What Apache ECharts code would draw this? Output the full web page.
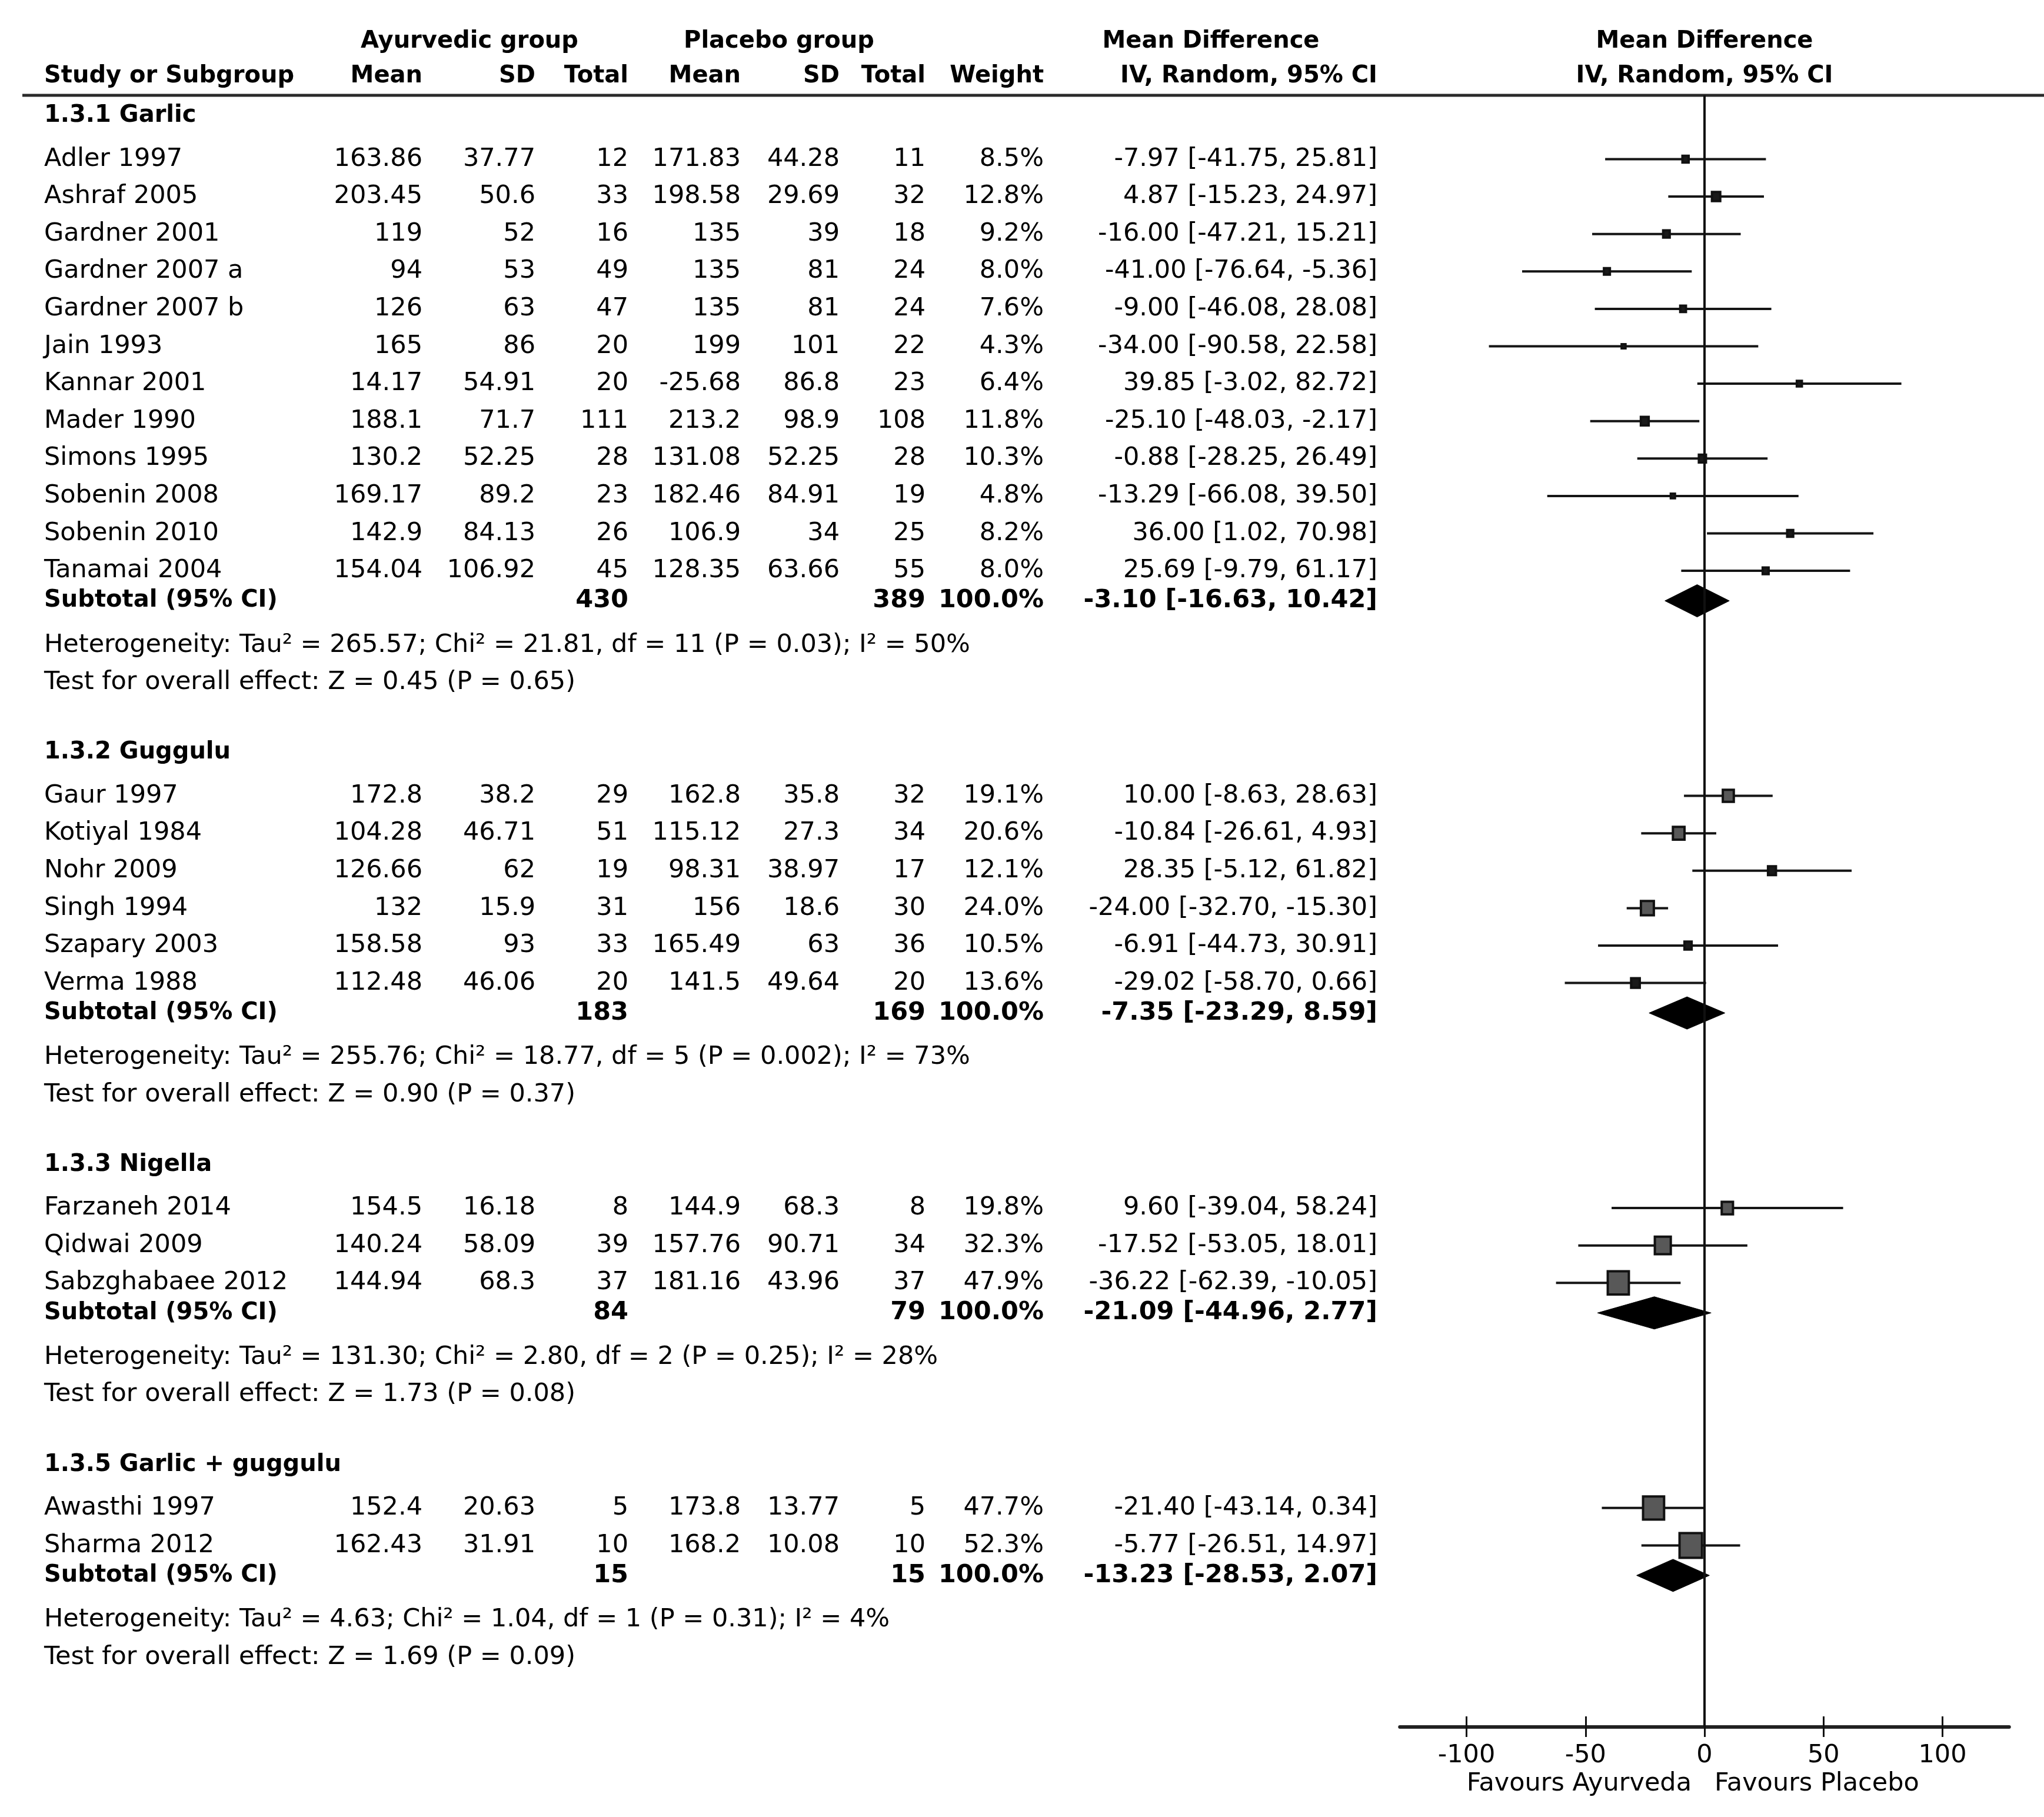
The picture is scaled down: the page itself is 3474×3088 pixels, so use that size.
<!DOCTYPE html>
<html>
<head>
<meta charset="utf-8">
<script src="https://cdn.jsdelivr.net/npm/echarts@6/dist/echarts.min.js"></script>
<style>
html,body{margin:0;padding:0;background:#fff;}
#chart{width:3474px;height:3088px;}
</style>
</head>
<body>
<div id="chart"></div>
<script>
// ---------------- DATA ----------------
const groupNames = ['1.3.1 Garlic', '1.3.2 Guggulu', '1.3.3 Nigella', '1.3.5 Garlic + guggulu'];
const studyGroup = [0,0,0,0,0,0,0,0,0,0,0,0, 1,1,1,1,1,1, 2,2,2, 3,3];
const studyNames = ['Adler 1997','Ashraf 2005','Gardner 2001','Gardner 2007 a','Gardner 2007 b','Jain 1993','Kannar 2001','Mader 1990','Simons 1995','Sobenin 2008','Sobenin 2010','Tanamai 2004',
  'Gaur 1997','Kotiyal 1984','Nohr 2009','Singh 1994','Szapary 2003','Verma 1988',
  'Farzaneh 2014','Qidwai 2009','Sabzghabaee 2012',
  'Awasthi 1997','Sharma 2012'];
const ayurMean = [163.86,203.45,119,94,126,165,14.17,188.1,130.2,169.17,142.9,154.04, 172.8,104.28,126.66,132,158.58,112.48, 154.5,140.24,144.94, 152.4,162.43];
const ayurSD   = [37.77,50.6,52,53,63,86,54.91,71.7,52.25,89.2,84.13,106.92, 38.2,46.71,62,15.9,93,46.06, 16.18,58.09,68.3, 20.63,31.91];
const ayurN    = [12,33,16,49,47,20,20,111,28,23,26,45, 29,51,19,31,33,20, 8,39,37, 5,10];
const placMean = [171.83,198.58,135,135,135,199,-25.68,213.2,131.08,182.46,106.9,128.35, 162.8,115.12,98.31,156,165.49,141.5, 144.9,157.76,181.16, 173.8,168.2];
const placSD   = [44.28,29.69,39,81,81,101,86.8,98.9,52.25,84.91,34,63.66, 35.8,27.3,38.97,18.6,63,49.64, 68.3,90.71,43.96, 13.77,10.08];
const placN    = [11,32,18,24,24,22,23,108,28,19,25,55, 32,34,17,30,36,20, 8,34,37, 5,10];
const weights  = [8.5,12.8,9.2,8.0,7.6,4.3,6.4,11.8,10.3,4.8,8.2,8.0, 19.1,20.6,12.1,24.0,10.5,13.6, 19.8,32.3,47.9, 47.7,52.3];
const meanDiff = [-7.97,4.87,-16.00,-41.00,-9.00,-34.00,39.85,-25.10,-0.88,-13.29,36.00,25.69, 10.00,-10.84,28.35,-24.00,-6.91,-29.02, 9.60,-17.52,-36.22, -21.40,-5.77];
const ciLow    = [-41.75,-15.23,-47.21,-76.64,-46.08,-90.58,-3.02,-48.03,-28.25,-66.08,1.02,-9.79, -8.63,-26.61,-5.12,-32.70,-44.73,-58.70, -39.04,-53.05,-62.39, -43.14,-26.51];
const ciHigh   = [25.81,24.97,15.21,-5.36,28.08,22.58,82.72,-2.17,26.49,39.50,70.98,61.17, 28.63,4.93,61.82,-15.30,30.91,0.66, 58.24,18.01,-10.05, 0.34,14.97];

const subAyurN  = [430,183,84,15];
const subPlacN  = [389,169,79,15];
const subMD     = [-3.10,-7.35,-21.09,-13.23];
const subLow    = [-16.63,-23.29,-44.96,-28.53];
const subHigh   = [10.42,8.59,2.77,2.07];
const hetTau2   = [265.57,255.76,131.30,4.63];
const hetChi2   = [21.81,18.77,2.80,1.04];
const hetDf     = [11,5,2,1];
const hetP      = ['0.03','0.002','0.25','0.31'];
const hetI2     = [50,73,28,4];
const testZ     = [0.45,0.90,1.73,1.69];
const testP     = ['0.65','0.37','0.08','0.09'];

const tickValues = [-100,-50,0,50,100];
const axisRange = [-128,128];

// ---------------- LAYOUT ----------------
const FONT = '"DejaVu Sans", "Liberation Sans", sans-serif';
const FS = 43;      // regular text
const FSL = 40;     // bold word labels
const fN = FS + 'px ' + FONT;
const fB = 'bold ' + FS + 'px ' + FONT;
const fBL = 'bold ' + FSL + 'px ' + FONT;
const COL = {name:75, aMean:718, aSD:910, aN:1068, pMean:1259, pSD:1427, pN:1573, w:1774, md:2341};
const GAP = {start:197, g2s:73.5, step:63.6, s2sub:51, sub2het:75.5, het2test:63.5, test2g:119};
const TOP_RULE = 162, AXIS_Y = 2935, H = 3088, W = 3474;

const rows = [];
(function(){
  let y = GAP.start;
  groupNames.forEach((g, gi) => {
    rows.push({kind:'group', gi, y});
    y += GAP.g2s;
    let first = true;
    studyNames.forEach((n, si) => {
      if (studyGroup[si] !== gi) return;
      if (!first) y += GAP.step;
      first = false;
      rows.push({kind:'study', si, y});
    });
    y += GAP.s2sub; rows.push({kind:'sub', gi, y});
    y += GAP.sub2het; rows.push({kind:'het', gi, y});
    y += GAP.het2test; rows.push({kind:'test', gi, y});
    y += GAP.test2g;
  });
})();

const f2 = v => v.toFixed(2);
const ciText = (m, l, h) => f2(m) + ' [' + f2(l) + ', ' + f2(h) + ']';

function txt(x, y, text, align, font) {
  return {type:'text', x, y, style:{text, font, fill:'#000', align, verticalAlign:'middle'}};
}

// ---------------- CHART ----------------
const chart = echarts.init(document.getElementById('chart'), null, {renderer:'canvas'});

const pxPerUnit = 4.045;
const zeroX = 2897;
const gridLeft = zeroX + axisRange[0] * pxPerUnit;
const gridRight = W - (zeroX + axisRange[1] * pxPerUnit);

const forestData = [];
rows.forEach(r => {
  if (r.kind === 'study') {
    const i = r.si;
    forestData.push([meanDiff[i], ciLow[i], ciHigh[i], r.y, weights[i], 0]);
  } else if (r.kind === 'sub') {
    const g = r.gi;
    forestData.push([subMD[g], subLow[g], subHigh[g], r.y, 100, 1]);
  }
});

const tableData = rows.map((r, i) => [0, r.y, i]);

const H1 = 71, H2 = 130;
const graphics = [
  txt(798, H1, 'Ayurvedic group', 'center', fBL),
  txt(1324, H1, 'Placebo group', 'center', fBL),
  txt(2058, H1, 'Mean Difference', 'center', fBL),
  txt(zeroX, H1, 'Mean Difference', 'center', fBL),
  txt(COL.name, H2, 'Study or Subgroup', 'left', fBL),
  txt(COL.aMean, H2, 'Mean', 'right', fBL),
  txt(COL.aSD, H2, 'SD', 'right', fBL),
  txt(COL.aN, H2, 'Total', 'right', fBL),
  txt(COL.pMean, H2, 'Mean', 'right', fBL),
  txt(COL.pSD, H2, 'SD', 'right', fBL),
  txt(COL.pN, H2, 'Total', 'right', fBL),
  txt(COL.w, H2, 'Weight', 'right', fBL),
  txt(COL.md, H2, 'IV, Random, 95% CI', 'right', fBL),
  txt(zeroX, H2, 'IV, Random, 95% CI', 'center', fBL),
  {type:'line', shape:{x1:38, y1:TOP_RULE, x2:W, y2:TOP_RULE}, style:{stroke:'#2a2a2a', lineWidth:5}},
  txt(zeroX - 22, 3032, 'Favours Ayurveda', 'right', fN),
  txt(zeroX + 17, 3032, 'Favours Placebo', 'left', fN)
];

const option = {
  backgroundColor:'#fff',
  animation:false,
  grid:{left:gridLeft, right:gridRight, top:TOP_RULE, bottom:H - AXIS_Y, outerBoundsMode:'none', containLabel:false},
  xAxis:[
    {type:'value', min:axisRange[0], max:axisRange[1], position:'bottom', splitLine:{show:false},
     axisLine:{show:true, onZero:false, lineStyle:{color:'#222', width:6}},
     axisTick:{show:true, customValues:tickValues, length:17, lineStyle:{color:'#111', width:3}},
     axisLabel:{show:true, customValues:tickValues, fontSize:FS, fontFamily:FONT, color:'#000', margin:27,
       formatter: v => String(v)}},
    {type:'value', min:axisRange[0], max:axisRange[1], position:'bottom', splitLine:{show:false},
     axisLine:{show:false},
     axisTick:{show:true, inside:true, customValues:tickValues, length:18, lineStyle:{color:'#111', width:3}},
     axisLabel:{show:false}}
  ],
  yAxis:{type:'value', min:TOP_RULE, max:AXIS_Y, inverse:true, show:false, splitLine:{show:false}},
  graphic:graphics,
  series:[
    {
      type:'custom', name:'forest', xAxisIndex:0, yAxisIndex:0, clip:false,
      data:forestData,
      encode:{x:[0,1,2], y:3},
      renderItem:function(params, api){
        const y = api.value(3);
        const pm = api.coord([api.value(0), y]);
        const pl = api.coord([api.value(1), y]);
        const ph = api.coord([api.value(2), y]);
        if (api.value(5) === 1) {
          const h = 55;
          return {type:'polygon', shape:{points:[[pl[0], pm[1]], [pm[0], pm[1]-h/2], [ph[0], pm[1]], [pm[0], pm[1]+h/2]]},
            style:{fill:'#000', stroke:'#000', lineWidth:1}};
        }
        const s = 2.3 * Math.pow(api.value(4), 0.71);
        const sh = s * 1.1;
        const fill = s < 16 ? '#1a1a1a' : '#585858';
        return {type:'group', children:[
          {type:'line', shape:{x1:pl[0], y1:pl[1], x2:ph[0], y2:ph[1]}, style:{stroke:'#151515', lineWidth:4}},
          {type:'rect', shape:{x:pm[0]-s/2, y:pm[1]-sh/2, width:s, height:sh}, style:{fill:fill, stroke:'#111', lineWidth:4}}
        ]};
      },
      markLine:{silent:true, symbol:'none', label:{show:false}, animation:false,
        lineStyle:{color:'#111', width:4, type:'solid'}, data:[{xAxis:0}]},
      z:3
    },
    {
      type:'custom', name:'table', xAxisIndex:0, yAxisIndex:0, clip:false,
      data:tableData,
      encode:{x:0, y:1},
      renderItem:function(params, api){
        const r = rows[api.value(2)];
        const py = api.coord([0, api.value(1)])[1];
        const c = [];
        if (r.kind === 'group') {
          c.push(txt(COL.name, py, groupNames[r.gi], 'left', fBL));
        } else if (r.kind === 'study') {
          const i = r.si;
          c.push(txt(COL.name, py, studyNames[i], 'left', fN));
          c.push(txt(COL.aMean, py, String(ayurMean[i]), 'right', fN));
          c.push(txt(COL.aSD, py, String(ayurSD[i]), 'right', fN));
          c.push(txt(COL.aN, py, String(ayurN[i]), 'right', fN));
          c.push(txt(COL.pMean, py, String(placMean[i]), 'right', fN));
          c.push(txt(COL.pSD, py, String(placSD[i]), 'right', fN));
          c.push(txt(COL.pN, py, String(placN[i]), 'right', fN));
          c.push(txt(COL.w, py, weights[i].toFixed(1) + '%', 'right', fN));
          c.push(txt(COL.md, py, ciText(meanDiff[i], ciLow[i], ciHigh[i]), 'right', fN));
        } else if (r.kind === 'sub') {
          const g = r.gi;
          c.push(txt(COL.name, py, 'Subtotal (95% CI)', 'left', fBL));
          c.push(txt(COL.aN, py, String(subAyurN[g]), 'right', fB));
          c.push(txt(COL.pN, py, String(subPlacN[g]), 'right', fB));
          c.push(txt(COL.w, py, '100.0%', 'right', fB));
          c.push(txt(COL.md, py, ciText(subMD[g], subLow[g], subHigh[g]), 'right', fB));
        } else if (r.kind === 'het') {
          const g = r.gi;
          c.push(txt(COL.name, py, 'Heterogeneity: Tau\u00B2 = ' + f2(hetTau2[g]) + '; Chi\u00B2 = ' + f2(hetChi2[g]) +
            ', df = ' + hetDf[g] + ' (P = ' + hetP[g] + '); I\u00B2 = ' + hetI2[g] + '%', 'left', fN));
        } else if (r.kind === 'test') {
          const g = r.gi;
          c.push(txt(COL.name, py, 'Test for overall effect: Z = ' + f2(testZ[g]) + ' (P = ' + testP[g] + ')', 'left', fN));
        }
        return {type:'group', children:c};
      },
      z:4
    }
  ]
};
chart.setOption(option);
</script>
</body>
</html>
